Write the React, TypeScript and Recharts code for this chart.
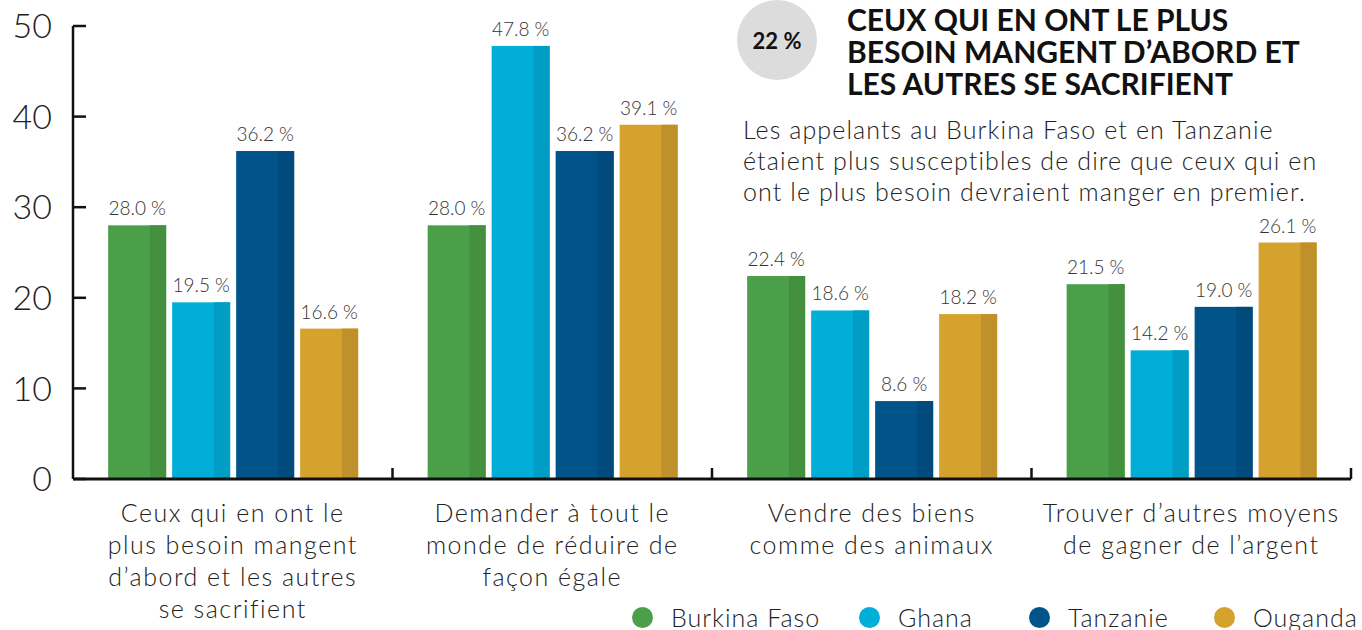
import { BarChart, Bar, XAxis, YAxis, LabelList } from 'recharts'

const categories = [
  ['Ceux qui en ont le', 'plus besoin mangent', 'd’abord et les autres', 'se sacrifient'],
  ['Demander à tout le', 'monde de réduire de', 'façon égale'],
  ['Vendre des biens', 'comme des animaux'],
  ['Trouver d’autres moyens', 'de gagner de l’argent'],
]
const burkinaFaso = [28.0, 28.0, 22.4, 21.5]
const ghana = [19.5, 47.8, 18.6, 14.2]
const tanzanie = [36.2, 36.2, 8.6, 19.0]
const ouganda = [16.6, 39.1, 18.2, 26.1]
const yTicks = [0, 10, 20, 30, 40, 50]

const titleLines = ['CEUX QUI EN ONT LE PLUS', 'BESOIN MANGENT D’ABORD ET', 'LES AUTRES SE SACRIFIENT']
const bodyLines = [
  'Les appelants au Burkina Faso et en Tanzanie',
  'étaient plus susceptibles de dire que ceux qui en',
  'ont le plus besoin devraient manger en premier.',
]

const series = [
  { key: 'bf', name: 'Burkina Faso', color: '#4a9f48', dark: '#43903e' },
  { key: 'gh', name: 'Ghana', color: '#00aed8', dark: '#009ec4' },
  { key: 'tz', name: 'Tanzanie', color: '#00548a', dark: '#004b7b' },
  { key: 'ug', name: 'Ouganda', color: '#d4a22d', dark: '#c0912a' },
]

const data = categories.map((lines, i) => ({
  label: lines.join(' '),
  bf: burkinaFaso[i],
  gh: ghana[i],
  tz: tanzanie[i],
  ug: ouganda[i],
}))

const W = 1362
const H = 630
const X_AXIS_H = 30
const M = { top: 26, right: 11, left: 0, bottom: 151 - X_AXIS_H }
const Y_AXIS_W = 73
const BAND = (W - M.left - M.right - Y_AXIS_W) / categories.length
const FONT = 'Lato, "Noto Sans", sans-serif'

// two-tone bar: the right strip is a shade darker
const twoTone = (dark: string) => (props: any) => {
  const { x, y, width, height, fill } = props
  if (!height || height <= 0) return <g />
  const split = width * 0.72
  return (
    <g>
      <rect x={x} y={y} width={width} height={height} fill={fill} />
      <rect x={x + split} y={y} width={width - split} height={height} fill={dark} />
    </g>
  )
}

function YTick(props: any) {
  const { x, y, payload } = props
  return (
    <g>
      <line x1={x} x2={x + 13} y1={y} y2={y} stroke="#111" strokeWidth={2.5} />
      <text x={x - 21} y={y} dy="0.36em" textAnchor="end" fontSize={34} fontFamily={FONT} fontWeight={300} fill="#222">
        {payload.value}
      </text>
    </g>
  )
}

function XTick(props: any) {
  const { x, y, index } = props
  const lines = categories[index] || []
  const edge = x + BAND / 2
  return (
    <g>
      <line x1={edge} x2={edge} y1={y} y2={y - 11} stroke="#111" strokeWidth={2.5} />
      <text x={x} y={y + 43} textAnchor="middle" fontSize={25} letterSpacing={1.5} fontFamily={FONT} fontWeight={300} fill="#222">
        {lines.map((l, i) => (
          <tspan key={i} x={x} dy={i === 0 ? 0 : 32}>
            {l}
          </tspan>
        ))}
      </text>
    </g>
  )
}

const legendLeft = [643, 870, 1040, 1225]

export default function App() {
  return (
    <div style={{ position: 'absolute', left: 0, top: 0, width: W, height: H, background: '#fff', fontFamily: FONT }}>
      <BarChart width={W} height={H} data={data} margin={M} barCategoryGap="11%" barGap={6}>
        <YAxis
          domain={[0, 50]}
          ticks={yTicks}
          width={Y_AXIS_W}
          tickSize={0}
          tickMargin={0}
          tickLine={false}
          axisLine={{ stroke: '#111', strokeWidth: 2.5 }}
          tick={<YTick />}
          interval={0}
        />
        <XAxis
          dataKey="label"
          height={X_AXIS_H}
          tickSize={0}
          tickMargin={0}
          tickLine={false}
          axisLine={{ stroke: '#111', strokeWidth: 3 }}
          tick={<XTick />}
          interval={0}
        />
        {series.map((s) => (
          <Bar key={s.key} dataKey={s.key} name={s.name} fill={s.color} shape={twoTone(s.dark)} isAnimationActive={false}>
            <LabelList
              dataKey={s.key}
              position="top"
              offset={10}
              formatter={(v: any) => `${Number(v).toFixed(1)} %`}
              style={{ fontSize: 19, fontFamily: FONT, fontWeight: 300, fill: '#333' }}
            />
          </Bar>
        ))}
      </BarChart>

      <div
        style={{
          position: 'absolute', left: 737, top: 0, width: 80, height: 80, borderRadius: '50%',
          background: '#dcdcdd', display: 'flex', alignItems: 'center', justifyContent: 'center',
          fontWeight: 700, fontSize: 22, color: '#111',
        }}
      >
        22 %
      </div>
      <div style={{ position: 'absolute', left: 847, top: 3, fontWeight: 700, fontSize: 30, lineHeight: '32px', color: '#111' }}>
        {titleLines.map((l, i) => <div key={i}>{l}</div>)}
      </div>
      <div style={{ position: 'absolute', left: 743, top: 114, fontWeight: 300, fontSize: 25, letterSpacing: 1.1, lineHeight: '31px', color: '#222' }}>
        {bodyLines.map((l, i) => <div key={i}>{l}</div>)}
      </div>

      {series.map((s, i) => (
        <div key={s.key} style={{ position: 'absolute', left: legendLeft[i] - 11, top: 602, display: 'flex', alignItems: 'center', fontSize: 25, letterSpacing: 1, fontWeight: 300, color: '#222' }}>
          <span style={{ width: 21, height: 21, borderRadius: '50%', background: s.color, display: 'inline-block', marginRight: 18 }} />
          <span>{s.name}</span>
        </div>
      ))}
    </div>
  )
}
